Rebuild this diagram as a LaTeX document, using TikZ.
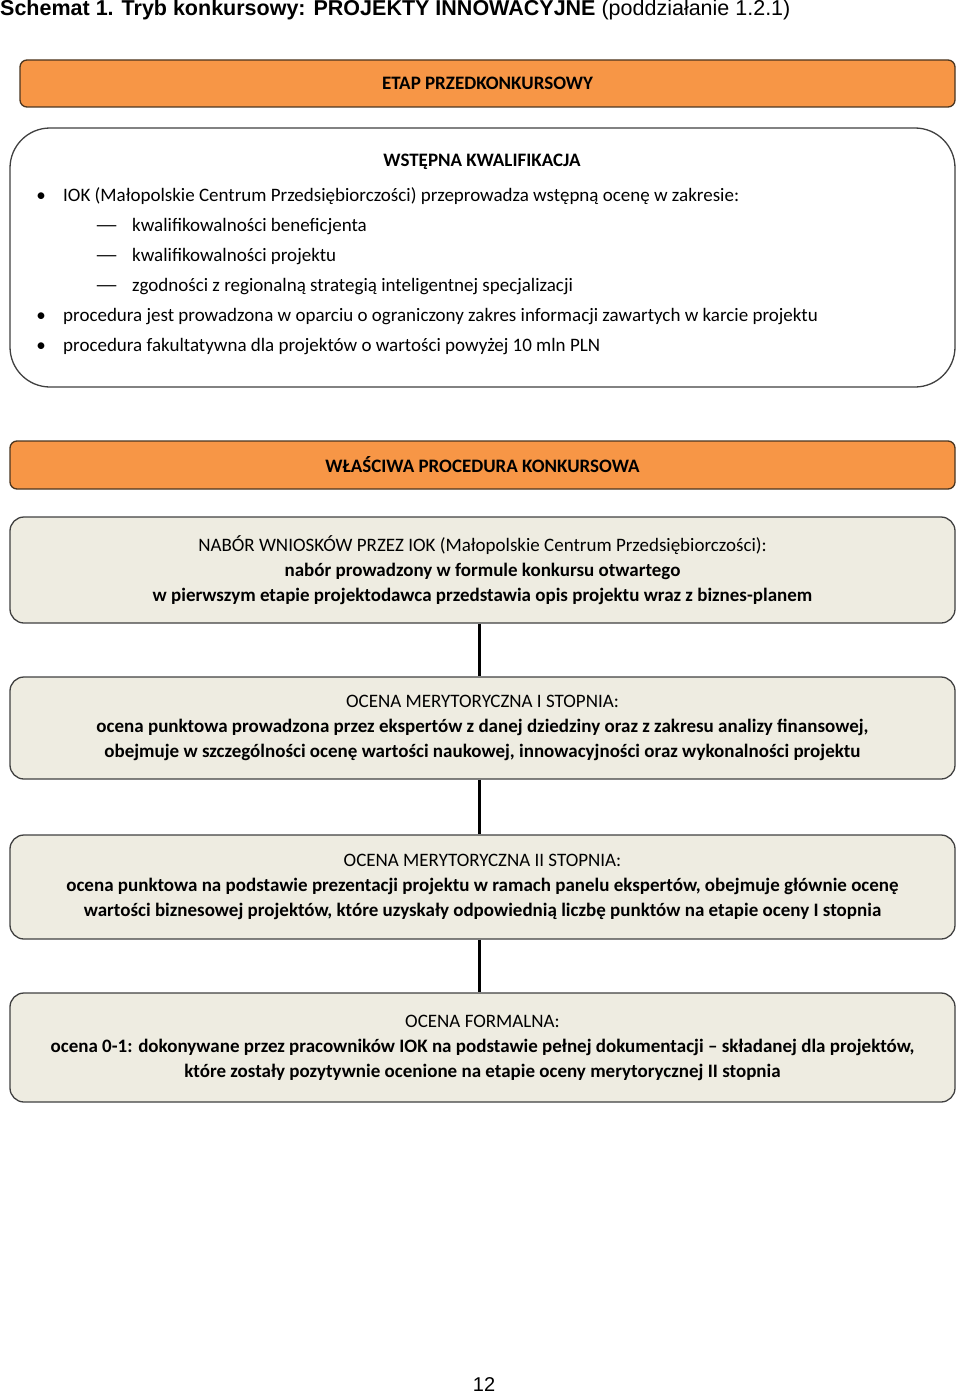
\documentclass[tikz,border=0pt]{standalone}
\usepackage{fontspec}
\setmainfont{Carlito}
\newfontfamily\arialfont{Liberation Sans}
\usepackage{xcolor}
\usetikzlibrary{positioning}

\definecolor{etaporange}{HTML}{F79646}
\definecolor{etapline}{HTML}{4A3520}
\definecolor{ocenafill}{HTML}{EEECE1}
\definecolor{ocenaline}{HTML}{404040}

\begin{document}
\begin{tikzpicture}[
  x=1pt, y=-1pt,
  etap/.style={draw=etapline, line width=1.3pt, fill=etaporange, rounded corners=7pt,
    minimum height=47pt, font=\fontsize{19}{22}\selectfont\bfseries},
  ocena/.style={draw=ocenaline, line width=1.3pt, fill=ocenafill, rounded corners=14pt,
    minimum width=945pt, align=center, font=\fontsize{19}{25}\selectfont},
  punkt/.style={anchor=base west, inner sep=0pt, font=\fontsize{19}{22}\selectfont},
  link/.style={line width=3pt}
]
\useasboundingbox (0,0) rectangle (960,1394);

% naglowek
\node[anchor=base west, inner sep=0pt, font=\arialfont\fontsize{21.5}{25}\selectfont] (tytul) at (0,16)
  {\textbf{Schemat 1. Tryb konkursowy: PROJEKTY INNOWACYJNE} (poddziałanie 1.2.1)};

% etap przedkonkursowy
\node[etap, minimum width=935pt] (przed) at (487.5,83.5) {ETAP PRZEDKONKURSOWY};
\node[draw=ocenaline, line width=1.3pt, fill=white, rounded corners=40pt,
  minimum width=945pt, minimum height=259pt] (wstepna) at (482.5,257.5) {};
\node[anchor=base, inner sep=0pt, font=\fontsize{19}{22}\selectfont\bfseries] (wk) at (482,166) {WSTĘPNA KWALIFIKACJA};
\node[punkt] (p1) at (63,201) {IOK (Małopolskie Centrum Przedsiębiorczości) przeprowadza wstępną ocenę w zakresie:};
\node[punkt] (d1) at (132,231) {kwalifikowalności beneficjenta};
\node[punkt] (d2) at (132,261) {kwalifikowalności projektu};
\node[punkt] (d3) at (132,291) {zgodności z regionalną strategią inteligentnej specjalizacji};
\node[punkt] (p2) at (63,321) {procedura jest prowadzona w oparciu o ograniczony zakres informacji zawartych w karcie projektu};
\node[punkt] (p3) at (63,351) {procedura fakultatywna dla projektów o wartości powyżej 10 mln PLN};
\foreach \n in {p1,p2,p3}
  \node[punkt, anchor=base east] at ([xshift=-17pt]\n.base west) {•};
\foreach \n in {d1,d2,d3}
  \node[punkt, anchor=base east] at ([xshift=-13pt]\n.base west) {\scalebox{1.4}[1]{—}};

% wlasciwa procedura
\node[etap, minimum width=945pt, minimum height=48pt] (wlasc) at (482.5,465) {WŁAŚCIWA PROCEDURA KONKURSOWA};

\node[ocena, minimum height=106pt, text depth=2pt] (nabor) at (482.5,570)
  {NABÓR WNIOSKÓW PRZEZ IOK (Małopolskie Centrum Przedsiębiorczości):\\
   \textbf{nabór prowadzony w formule konkursu otwartego}\\
   \textbf{w pierwszym etapie projektodawca przedstawia opis projektu wraz z biznes-planem}};
\node[ocena, minimum height=102pt] (mer1) at (482.5,728)
  {OCENA MERYTORYCZNA I STOPNIA:\\
   \textbf{ocena punktowa prowadzona przez ekspertów z danej dziedziny oraz z zakresu analizy finansowej,}\\
   \textbf{obejmuje w szczególności ocenę wartości naukowej, innowacyjności oraz wykonalności projektu}};
\node[ocena, minimum height=104pt] (mer2) at (482.5,887)
  {OCENA MERYTORYCZNA II STOPNIA:\\
   \textbf{ocena punktowa na podstawie prezentacji projektu w ramach panelu ekspertów, obejmuje głównie ocenę}\\
   \textbf{wartości biznesowej projektów, które uzyskały odpowiednią liczbę punktów na etapie oceny I stopnia}};
\node[ocena, minimum height=109pt] (form) at (482.5,1047.5)
  {OCENA FORMALNA:\\
   \textbf{ocena 0-1: dokonywane przez pracowników IOK na podstawie pełnej dokumentacji – składanej dla projektów,}\\
   \textbf{które zostały pozytywnie ocenione na etapie oceny merytorycznej II stopnia}};

\draw[link] ([xshift=-3.5pt]nabor.south) -- ([xshift=-3.5pt]mer1.north);
\draw[link] ([xshift=-3.5pt]mer1.south) -- ([xshift=-3.5pt]mer2.north);
\draw[link] ([xshift=-3.5pt]mer2.south) -- ([xshift=-3.5pt]form.north);

% numer strony
\node[anchor=base, inner sep=0pt, font=\arialfont\fontsize{20}{24}\selectfont] (strona) at (484,1391) {12};
\end{tikzpicture}
\end{document}
